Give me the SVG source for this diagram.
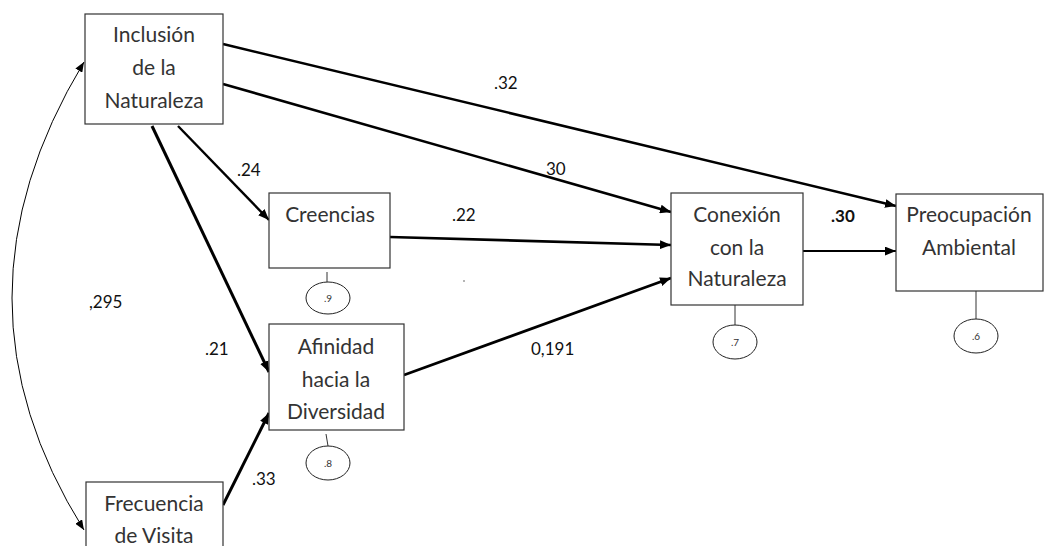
<svg xmlns="http://www.w3.org/2000/svg" width="1046" height="546" viewBox="0 0 1046 546">
  <style>
    .box { fill: #ffffff; stroke: #333333; stroke-width: 1.2; }
    .node text { font-family: Lato, "Open Sans", sans-serif; font-size: 21px; fill: #333333; text-anchor: middle; }
    .err { fill: #ffffff; stroke: #222222; stroke-width: 1; }
    .node text.err-text { font-size: 10px; }
    .stem { stroke: #333333; stroke-width: 1; }
    .path { fill: none; stroke: #000000; marker-end: url(#head); }
    .coef { font-family: Lato, "Open Sans", sans-serif; font-size: 17px; fill: #111111; }
  </style>
  <defs>
    <marker id="head" viewBox="0 0 10 8" refX="10" refY="4" markerWidth="11" markerHeight="9" markerUnits="userSpaceOnUse" orient="auto-start-reverse">
      <path d="M0,0 L10,4 L0,8 Z" fill="#000000"/>
    </marker>
    <marker id="headThin" viewBox="0 0 10 8" refX="10" refY="4" markerWidth="10" markerHeight="8" markerUnits="userSpaceOnUse" orient="auto-start-reverse">
      <path d="M0,0 L10,4 L0,8 Z" fill="#000000"/>
    </marker>
  </defs>

  <rect width="1046" height="546" fill="#ffffff"/>

  <!-- paths between variables -->
  <g id="connectors">
    <path class="path" d="M223,44 L896,206" style="stroke-width:2.5"/>
    <path class="path" d="M223,84 L671,212" style="stroke-width:2.6"/>
    <path class="path" d="M178,126 L269,220" style="stroke-width:2.4"/>
    <path class="path" d="M152,126 L269,372" style="stroke-width:3"/>
    <path class="path" d="M390,237 L671,245" style="stroke-width:2.6"/>
    <path class="path" d="M404,375 L671,278" style="stroke-width:2.8"/>
    <path class="path" d="M223,505 L269,413" style="stroke-width:3"/>
    <path class="path" d="M803,251 L896,251" style="stroke-width:2"/>
    <!-- covariance between the exogenous variables -->
    <path d="M84,62 Q-60,300 84,530" fill="none" stroke="#000000" stroke-width="1" marker-start="url(#headThin)" marker-end="url(#headThin)"/>
  </g>

  <!-- path coefficients -->
  <g id="coefficients">
    <text class="coef" x="494" y="89">.32</text>
    <text class="coef" x="546" y="175">30</text>
    <text class="coef" x="237" y="176">.24</text>
    <text class="coef" x="452" y="221">.22</text>
    <text class="coef" x="205" y="355">.21</text>
    <text class="coef" x="89" y="308">,295</text>
    <text class="coef" x="531" y="355">0,191</text>
    <text class="coef" x="252" y="485">.33</text>
    <text class="coef" x="831" y="222" style="font-weight:bold">.30</text>
    <circle cx="464" cy="281" r="0.7" fill="#333333"/>
  </g>

  <g id="inclusion" class="node">
    <rect class="box" x="85" y="14" width="138" height="110"/>
    <text x="154" y="42">Inclusión</text>
    <text x="154" y="75">de la</text>
    <text x="154" y="108">Naturaleza</text>
  </g>

  <g id="creencias" class="node">
    <rect class="box" x="269" y="193" width="121" height="75"/>
    <text x="330" y="222">Creencias</text>
    <line class="stem" x1="327" y1="272" x2="327" y2="282"/>
    <ellipse class="err" cx="328" cy="298" rx="22" ry="16"/>
    <text class="err-text" x="328" y="302">.9</text>
  </g>

  <g id="afinidad" class="node">
    <rect class="box" x="269" y="324" width="135" height="106"/>
    <text x="336" y="354">Afinidad</text>
    <text x="336" y="387">hacia  la</text>
    <text x="336" y="419">Diversidad</text>
    <line class="stem" x1="326" y1="434" x2="328" y2="446"/>
    <ellipse class="err" cx="328" cy="463" rx="22" ry="17"/>
    <text class="err-text" x="328" y="467">.8</text>
  </g>

  <g id="conexion" class="node">
    <rect class="box" x="671" y="193" width="132" height="112"/>
    <text x="737" y="222">Conexión</text>
    <text x="737" y="255">con la</text>
    <text x="737" y="286">Naturaleza</text>
    <line class="stem" x1="735" y1="305" x2="735" y2="325"/>
    <ellipse class="err" cx="735" cy="342" rx="22" ry="17"/>
    <text class="err-text" x="735" y="346">.7</text>
  </g>

  <g id="preocupacion" class="node">
    <rect class="box" x="896" y="194" width="147" height="97"/>
    <text x="969" y="222">Preocupación</text>
    <text x="969" y="255">Ambiental</text>
    <line class="stem" x1="976" y1="291" x2="976" y2="319"/>
    <ellipse class="err" cx="976" cy="336" rx="22" ry="17"/>
    <text class="err-text" x="976" y="340">.6</text>
  </g>

  <g id="frecuencia" class="node">
    <rect class="box" x="86" y="482" width="137" height="80"/>
    <text x="154" y="511">Frecuencia</text>
    <text x="154" y="543">de Visita</text>
  </g>
</svg>
